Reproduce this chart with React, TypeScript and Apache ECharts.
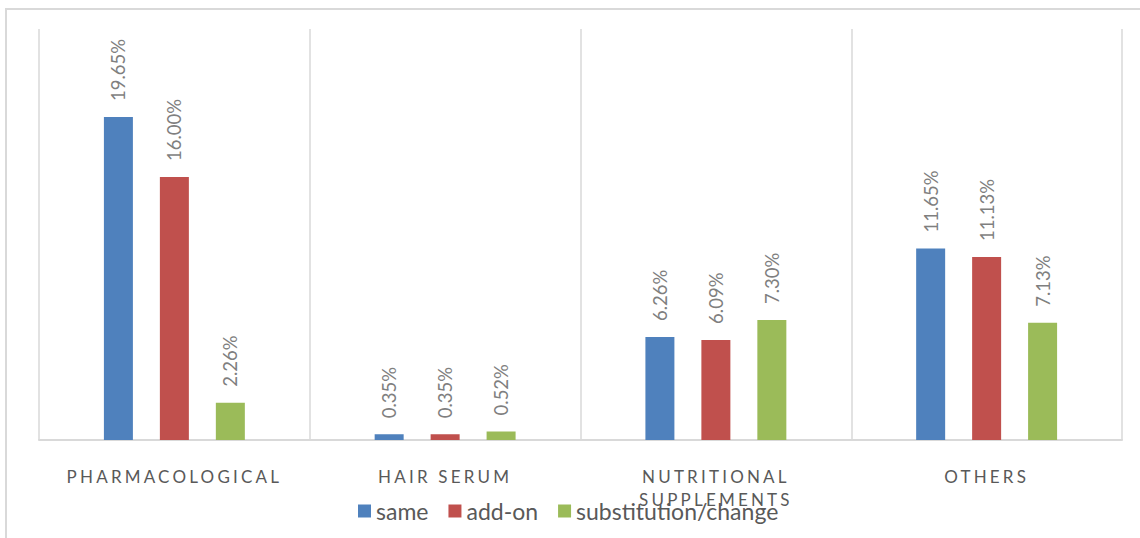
import React, { useEffect, useRef } from "react";
import * as echarts from "echarts";

const categories = ["PHARMACOLOGICAL", "HAIR SERUM", "NUTRITIONAL SUPPLEMENTS", "OTHERS"];
const seriesNames = ["same", "add-on", "substitution/change"];
const sameValues = [19.65, 0.35, 6.26, 11.65];
const addOnValues = [16.0, 0.35, 6.09, 11.13];
const substitutionValues = [2.26, 0.52, 7.3, 7.13];
const colors = ["#4f81bd", "#c0504d", "#9bbb59"];

const labelFont = "Lato, 'Open Sans', sans-serif";

export default function App() {
  const ref = useRef<HTMLDivElement>(null);
  useEffect(() => {
    if (!ref.current) return;
    const chart = echarts.init(ref.current, null, { renderer: "svg" });
    const mkSeries = (name: string, data: number[], color: string) => ({
      name,
      type: "bar",
      data,
      barWidth: 29,
      barGap: "93%",
      itemStyle: { color },
      label: {
        show: true,
        position: "top",
        rotate: 90,
        align: "left",
        verticalAlign: "middle",
        distance: 16,
        color: "#7f7f7f",
        fontSize: 18.5,
        fontFamily: labelFont,
        formatter: (p: any) => Number(p.value).toFixed(2) + "%",
      },
    });
    chart.setOption({
      animation: false,
      backgroundColor: "#ffffff",
      graphic: [
        {
          type: "rect",
          shape: { x: 6, y: 9, width: 1200, height: 600 },
          style: { fill: "none", stroke: "#d9d9d9", lineWidth: 2 },
          silent: true,
        },
      ],
      grid: { left: 39, right: 18, top: 29, bottom: 98, containLabel: false },
      legend: {
        data: seriesNames,
        left: 358,
        top: 499,
        padding: 0,
        itemWidth: 13,
        itemHeight: 13,
        itemGap: 20,
        icon: "rect",
        textStyle: { fontSize: 23, color: "#595959", fontFamily: labelFont, lineHeight: 24 },
      },
      xAxis: {
        type: "category",
        data: categories,
        axisTick: { show: false },
        axisLine: { lineStyle: { color: "#d9d9d9", width: 2 } },
        splitLine: { show: true, lineStyle: { color: "#d9d9d9", width: 1.5 } },
        axisLabel: {
          interval: 0,
          margin: 25,
          fontSize: 17,
          lineHeight: 23,
          color: "#595959",
          fontFamily: labelFont,
          formatter: (v: string) => v.replace(" SUPPLEMENTS", "\nSUPPLEMENTS"),
        },
      },
      yAxis: {
        type: "value",
        min: 0,
        max: 25,
        show: false,
        splitLine: { show: false },
      },
      series: [
        mkSeries(seriesNames[0], sameValues, colors[0]),
        mkSeries(seriesNames[1], addOnValues, colors[1]),
        mkSeries(seriesNames[2], substitutionValues, colors[2]),
      ],
    });
    const spaceLabels = () => {
      if (!ref.current) return;
      const texts = ref.current.querySelectorAll("text");
      texts.forEach((t) => {
        const s = (t.textContent || "").trim();
        if (s && s === s.toUpperCase() && /^[A-Z ]+$/.test(s)) {
          t.setAttribute("letter-spacing", "3.2");
        }
      });
    };
    spaceLabels();
    chart.on("finished", spaceLabels);
    return () => chart.dispose();
  }, []);
  return (
    <div
      ref={ref}
      style={{ position: "fixed", left: 0, top: 0, width: 1140, height: 538, background: "#fff" }}
    />
  );
}
